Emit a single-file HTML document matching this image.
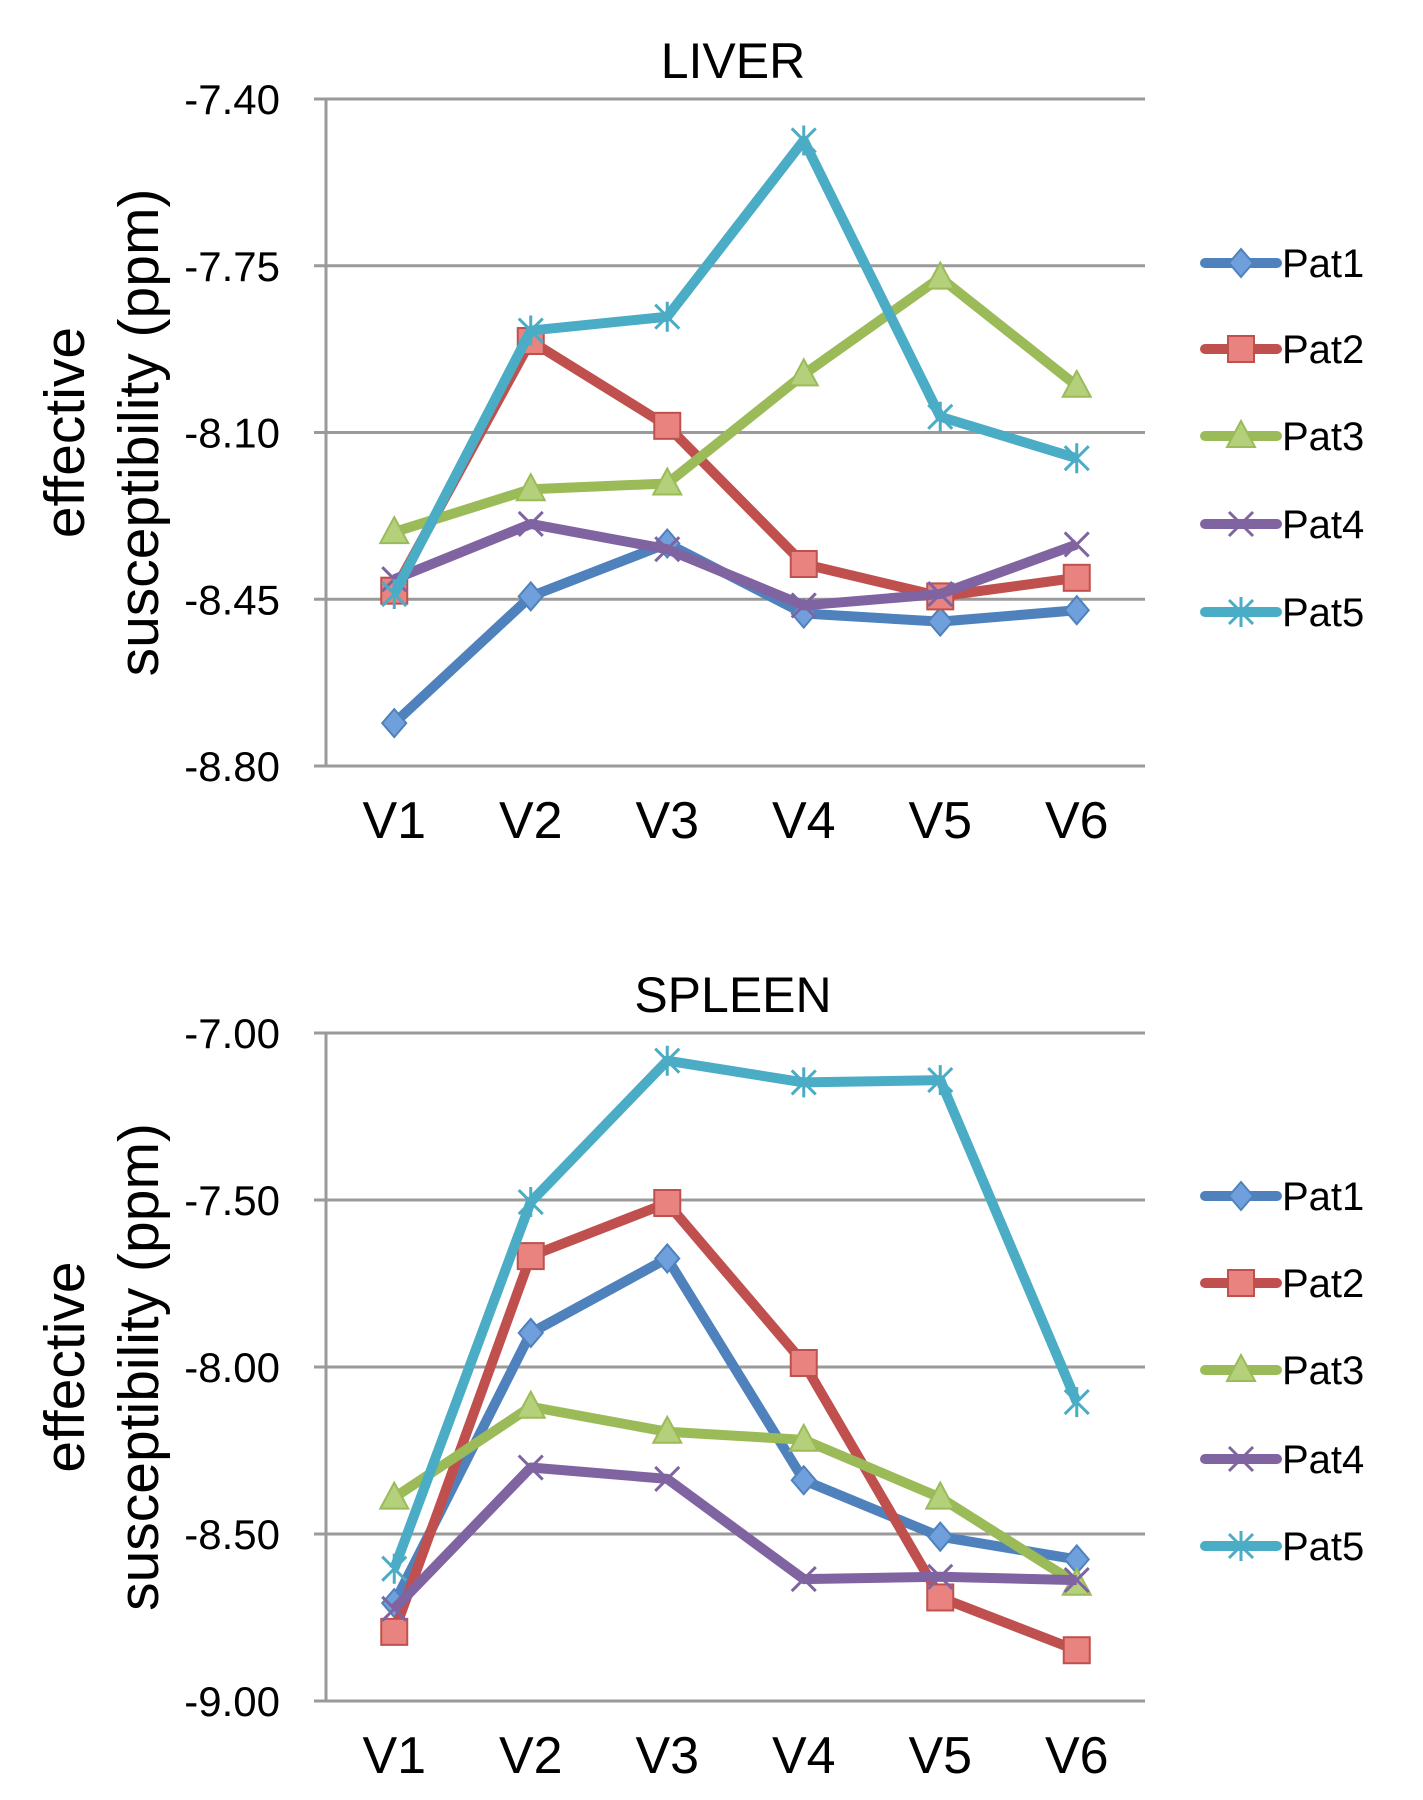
<!DOCTYPE html>
<html><head><meta charset="utf-8"><style>
html,body{margin:0;padding:0;background:#fff;}
svg{display:block;font-family:"Liberation Sans",sans-serif;}
</style></head><body>
<svg id="chart" width="1423" height="1800" viewBox="0 0 1423 1800" xmlns="http://www.w3.org/2000/svg"></svg>
<script>
const categories = ["V1","V2","V3","V4","V5","V6"];
const seriesNames = ["Pat1","Pat2","Pat3","Pat4","Pat5"];
const liverTicks = [-7.40,-7.75,-8.10,-8.45,-8.80];
const spleenTicks = [-7.00,-7.50,-8.00,-8.50,-9.00];
const liverPat1 = [-8.71,-8.444,-8.333,-8.48,-8.497,-8.473];
const liverPat2 = [-8.432,-7.908,-8.086,-8.376,-8.444,-8.405];
const liverPat3 = [-8.309,-8.219,-8.207,-7.978,-7.775,-8.002];
const liverPat4 = [-8.408,-8.292,-8.345,-8.463,-8.439,-8.335];
const liverPat5 = [-8.439,-7.886,-7.857,-7.487,-8.067,-8.154];
const spleenPat1 = [-8.707,-7.898,-7.675,-8.339,-8.508,-8.576];
const spleenPat2 = [-8.793,-7.668,-7.509,-7.988,-8.69,-8.848];
const spleenPat3 = [-8.391,-8.119,-8.194,-8.218,-8.391,-8.649];
const spleenPat4 = [-8.724,-8.301,-8.335,-8.635,-8.628,-8.638];
const spleenPat5 = [-8.604,-7.506,-7.083,-7.148,-7.141,-8.105];

const colors = ["#4f81bd","#c0504d","#9bbb59","#8064a2","#4bacc6"];
const markers = ["diamond","square","triangle","x","star"];
const NS = "http://www.w3.org/2000/svg";
const svg = document.getElementById("chart");
function mk(tag, attrs, parent){
  const e = document.createElementNS(NS, tag);
  for (const k in attrs) e.setAttribute(k, attrs[k]);
  (parent||svg).appendChild(e);
  return e;
}
function marker(g, type, x, y, c){
  let m;
  if(type==="diamond") m = mk("polygon",{points:`${x},${y-14} ${x+12},${y} ${x},${y+14} ${x-12},${y}`,fill:"#6fa0dc",stroke:c,"stroke-width":2},g);
  else if(type==="square") m = mk("rect",{x:x-13,y:y-13,width:26,height:26,fill:"#e8837f",stroke:c,"stroke-width":2},g);
  else if(type==="triangle") m = mk("polygon",{points:`${x},${y-15} ${x+14},${y+11} ${x-14},${y+11}`,fill:"#b5d07a",stroke:c,"stroke-width":2},g);
  else if(type==="x") m = mk("path",{d:`M${x-12},${y-12}L${x+12},${y+12}M${x-12},${y+12}L${x+12},${y-12}`,stroke:c,"stroke-width":3},g);
  else m = mk("path",{d:`M${x-12},${y-12}L${x+12},${y+12}M${x-12},${y+12}L${x+12},${y-12}M${x},${y-15}L${x},${y+15}`,stroke:c,"stroke-width":3},g);
  
  
}
function panel(name, title, ticks, series, top, bottom, titleY, xLabY, legY){
  const L=326, R=1145;
  const g = mk("g",{});
  
  
  const vmax = ticks[0], vmin = ticks[ticks.length-1];
  const y = v => top + (vmax - v)/(vmax - vmin)*(bottom-top);
  const bw = (R-L)/categories.length;
  const x = i => L + bw*(i+0.5);
  const t = mk("text",{x:733,y:titleY,"font-size":50,"text-anchor":"middle",fill:"#000"},g);
  t.textContent = title;
  
  
  ticks.forEach(v=>{
    const gl = mk("line",{x1:L-12,x2:R,y1:y(v),y2:y(v),stroke:"#9a9a9a","stroke-width":3},g);
    
    
    const tl = mk("text",{x:280,y:y(v)+15,"font-size":42,"text-anchor":"end",fill:"#000"},g);
    tl.textContent = v.toFixed(2);
    
    
  });
  const ax = mk("line",{x1:L,x2:L,y1:top,y2:bottom,stroke:"#9a9a9a","stroke-width":3},g);
  
  
  categories.forEach((c,i)=>{
    const tl = mk("text",{x:x(i),y:xLabY,"font-size":52,"text-anchor":"middle",fill:"#000"},g);
    tl.textContent = c;
    
    
  });
  const cy = (top+bottom)/2;
  const yt = mk("text",{transform:`translate(84,${cy}) rotate(-90)`,"font-size":57,"text-anchor":"middle",fill:"#000"},g);
  yt.textContent = "effective";
  
  
  const yt2 = mk("text",{transform:`translate(158,${cy}) rotate(-90)`,"font-size":57,"text-anchor":"middle",fill:"#000"},g);
  yt2.textContent = "susceptibility (ppm)";
  
  
  series.forEach((s,si)=>{
    const sg = mk("g",{},g);
    
    
    const pts = s.map((v,i)=>x(i)+","+y(v)).join(" ");
    const pl = mk("polyline",{points:pts,fill:"none",stroke:colors[si],"stroke-width":10,"stroke-linejoin":"round"},sg);
    
    
    s.forEach((v,i)=>marker(sg, markers[si], x(i), y(v), colors[si]));
    const ly = legY[si];
    const lg = mk("g",{},g);
    
    
    mk("line",{x1:1205,x2:1277,y1:ly,y2:ly,stroke:colors[si],"stroke-width":10,"stroke-linecap":"round"},lg);
    marker(lg, markers[si], 1241, ly, colors[si]);
    const lt = mk("text",{x:1282,y:ly+14,"font-size":40,fill:"#000"},lg);
    lt.textContent = seriesNames[si];
    
    
  });
}
panel("liver","LIVER",liverTicks,[liverPat1,liverPat2,liverPat3,liverPat4,liverPat5],99,766,78,838,[263,349,436,524,612]);
panel("spleen","SPLEEN",spleenTicks,[spleenPat1,spleenPat2,spleenPat3,spleenPat4,spleenPat5],1033,1701,1012,1773,[1196,1283,1370,1459,1546]);
</script>
</body></html>
